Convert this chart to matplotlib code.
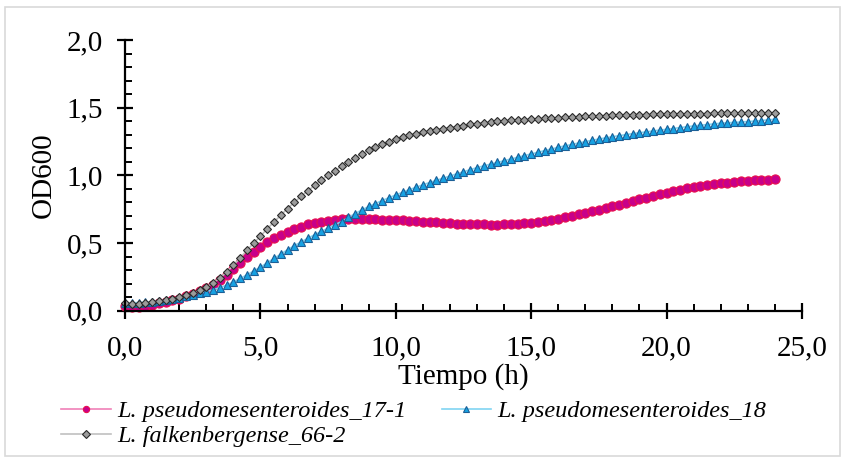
import matplotlib as mpl, numpy as np
mpl.use('Agg')
import matplotlib.pyplot as plt
from matplotlib.lines import Line2D
from matplotlib.patches import Rectangle
from matplotlib.ticker import MultipleLocator, FuncFormatter

# Data (0.25 h sampling)
tiempo = [0.0, 0.25, 0.5, 0.75, 1.0, 1.25, 1.5, 1.75, 2.0, 2.25, 2.5, 2.75,
          3.0, 3.25, 3.5, 3.75, 4.0, 4.25, 4.5, 4.75, 5.0, 5.25, 5.5, 5.75,
          6.0, 6.25, 6.5, 6.75, 7.0, 7.25, 7.5, 7.75, 8.0, 8.25, 8.5, 8.75,
          9.0, 9.25, 9.5, 9.75, 10.0, 10.25, 10.5, 10.75, 11.0, 11.25, 11.5, 11.75,
          12.0, 12.25, 12.5, 12.75, 13.0, 13.25, 13.5, 13.75, 14.0, 14.25, 14.5, 14.75,
          15.0, 15.25, 15.5, 15.75, 16.0, 16.25, 16.5, 16.75, 17.0, 17.25, 17.5, 17.75,
          18.0, 18.25, 18.5, 18.75, 19.0, 19.25, 19.5, 19.75, 20.0, 20.25, 20.5, 20.75,
          21.0, 21.25, 21.5, 21.75, 22.0, 22.25, 22.5, 22.75, 23.0, 23.25, 23.5, 23.75,
          24.0]

lp_17_1 = [0.035, 0.028, 0.030, 0.036, 0.045, 0.055, 0.065, 0.077, 0.090, 0.105, 0.122, 0.142,
           0.165, 0.192, 0.225, 0.262, 0.305, 0.350, 0.395, 0.435, 0.472, 0.505, 0.535, 0.562,
           0.585, 0.605, 0.622, 0.637, 0.649, 0.658, 0.665, 0.670, 0.674, 0.676, 0.677, 0.677,
           0.676, 0.675, 0.673, 0.671, 0.669, 0.667, 0.664, 0.661, 0.658, 0.655, 0.652, 0.649,
           0.647, 0.644, 0.642, 0.640, 0.638, 0.637, 0.636, 0.636, 0.637, 0.639, 0.642, 0.646,
           0.651, 0.657, 0.664, 0.672, 0.681, 0.691, 0.701, 0.711, 0.722, 0.733, 0.745, 0.757,
           0.770, 0.782, 0.795, 0.808, 0.822, 0.835, 0.848, 0.860, 0.872, 0.883, 0.893, 0.903,
           0.912, 0.920, 0.927, 0.934, 0.940, 0.945, 0.950, 0.955, 0.959, 0.963, 0.966, 0.969,
           0.972]

lp_18 = [0.055, 0.058, 0.060, 0.062, 0.065, 0.070, 0.077, 0.085, 0.095, 0.105, 0.116, 0.128,
         0.140, 0.155, 0.170, 0.190, 0.212, 0.238, 0.265, 0.293, 0.322, 0.354, 0.386, 0.418,
         0.450, 0.480, 0.508, 0.535, 0.561, 0.586, 0.611, 0.635, 0.659, 0.689, 0.718, 0.745,
         0.770, 0.792, 0.814, 0.835, 0.855, 0.875, 0.894, 0.912, 0.930, 0.947, 0.963, 0.979,
         0.995, 1.011, 1.026, 1.042, 1.057, 1.070, 1.083, 1.095, 1.108, 1.121, 1.133, 1.146,
         1.158, 1.170, 1.183, 1.195, 1.207, 1.218, 1.228, 1.239, 1.249, 1.259, 1.268, 1.277,
         1.286, 1.293, 1.301, 1.308, 1.315, 1.321, 1.328, 1.334, 1.340, 1.346, 1.353, 1.359,
         1.365, 1.370, 1.375, 1.380, 1.385, 1.388, 1.391, 1.394, 1.397, 1.401, 1.405, 1.410,
         1.414]

lf_66_2 = [0.055, 0.052, 0.052, 0.056, 0.063, 0.070, 0.080, 0.090, 0.102, 0.115, 0.130, 0.150,
           0.175, 0.205, 0.240, 0.285, 0.335, 0.390, 0.445, 0.500, 0.550, 0.605, 0.655, 0.705,
           0.755, 0.800, 0.845, 0.885, 0.925, 0.965, 1.000, 1.035, 1.068, 1.100, 1.130, 1.158,
           1.185, 1.208, 1.230, 1.250, 1.268, 1.283, 1.297, 1.309, 1.320, 1.329, 1.338, 1.345,
           1.352, 1.360, 1.367, 1.376, 1.383, 1.388, 1.393, 1.398, 1.403, 1.406, 1.409, 1.412,
           1.415, 1.418, 1.421, 1.424, 1.427, 1.429, 1.432, 1.434, 1.436, 1.438, 1.440, 1.442,
           1.444, 1.445, 1.446, 1.447, 1.448, 1.449, 1.450, 1.451, 1.452, 1.453, 1.453, 1.454,
           1.455, 1.455, 1.456, 1.457, 1.457, 1.458, 1.458, 1.459, 1.460, 1.460, 1.461, 1.462,
           1.463]

labels = ['L. pseudomesenteroides_17-1', 'L. pseudomesenteroides_18', 'L. falkenbergense_66-2']

plt.rc('font', family='Liberation Serif', size=21)

fig = plt.figure(figsize=(8.45, 4.58), dpi=100)
ax = fig.add_axes([0.148, 0.3216, 0.801, 0.5911])

# series: (values, marker, size, fill, edge, line colour)
styles = [
    (lp_17_1, 'o', 6.6, '#C8008A', '#E8104E', '#F080B8'),
    (lp_18, '^', 6.2, '#17A2E3', '#1C5F96', '#80D4F2'),
    (lf_66_2, 'D', 4.0, '#9C9C9C', '#2A2A2A', '#C0C0C0'),
]
for (vals, mk, ms, fc, ec, lc), lab in zip(styles, labels):
    ax.plot(tiempo, vals, color=lc, lw=1.2, marker=mk, markersize=ms,
            markerfacecolor=fc, markeredgecolor=ec, markeredgewidth=0.8, label=lab,
            clip_on=False)

ax.set_xlim(0, 25)
ax.set_ylim(0, 2.0)
ax.xaxis.set_major_locator(MultipleLocator(5))
ax.xaxis.set_minor_locator(MultipleLocator(1))
ax.yaxis.set_major_locator(MultipleLocator(0.5))
ax.yaxis.set_minor_locator(MultipleLocator(0.1))
comma = FuncFormatter(lambda v, p: ('%.1f' % v).replace('.', ','))
ax.xaxis.set_major_formatter(comma)
ax.yaxis.set_major_formatter(comma)

for s in ['top', 'right']:
    ax.spines[s].set_visible(False)
for s in ['left', 'bottom']:
    ax.spines[s].set_linewidth(1.6)
ax.tick_params(which='major', direction='inout', length=12, width=1.6)
ax.tick_params(which='minor', direction='in', length=5, width=1.4)
ax.tick_params(axis='x', which='major', pad=12)
ax.tick_params(axis='y', which='major', pad=10)

ax.set_xlabel('Tiempo (h)', labelpad=1)
ax.set_ylabel('OD600', labelpad=7)

handles = [Line2D([0], [0], color=lc, lw=1.2, marker=mk, markersize=4.5,
                  markerfacecolor=fc, markeredgecolor=ec, markeredgewidth=0.8)
           for (vals, mk, ms, fc, ec, lc) in styles]
# ncol fills down columns first: order so row 1 = 17-1, 18 and row 2 = 66-2
order = [0, 2, 1]
leg = fig.legend([handles[i] for i in order], [labels[i] for i in order],
                 loc='upper left', bbox_to_anchor=(0.061, 0.147),
                 ncol=2, frameon=False, handlelength=2.05, handletextpad=0.25,
                 columnspacing=1.45, labelspacing=0.12, borderaxespad=0,
                 prop={'family': 'Liberation Serif', 'style': 'italic', 'size': 17.5})

# outer chart border
fig.patches.append(Rectangle((0.006, 0.004), 0.988, 0.981, transform=fig.transFigure,
                             fill=False, edgecolor='#D9D9D9', lw=1.2))

plt.savefig('out.png', dpi=100)
